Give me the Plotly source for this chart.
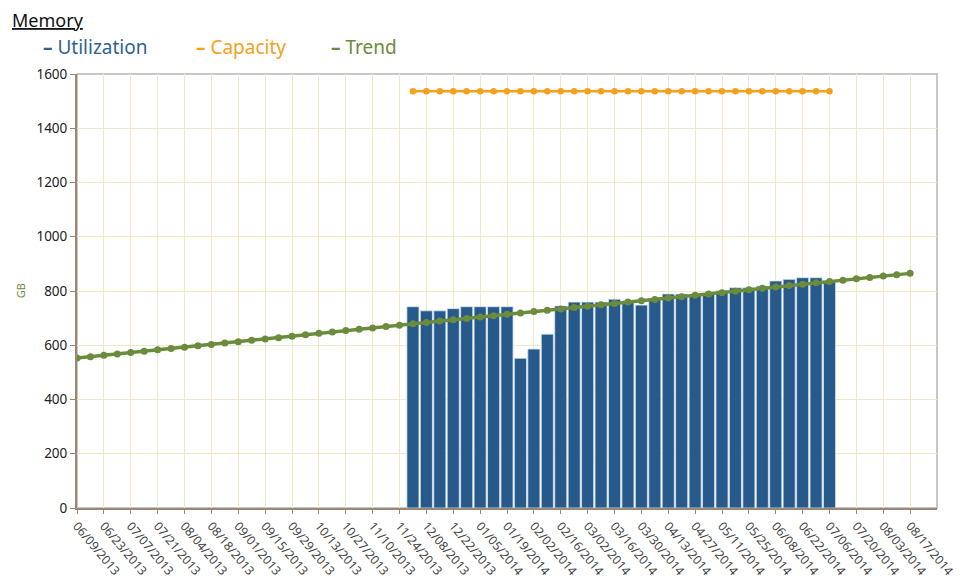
import pandas as pd
import plotly.graph_objects as go

# ---- data ----
trend_dates = pd.date_range("2013-06-09", "2014-08-17", freq="7D")
bar_dates = pd.date_range("2013-12-01", "2014-07-06", freq="7D")

utilization = [742, 727, 727, 735, 742, 742, 742, 742, 552, 586, 641, 745,
               759, 759, 759, 770, 757, 748, 772, 789, 789, 787, 791, 801,
               812, 812, 818, 837, 843, 849, 849, 838]
capacity = [1536] * 32
trend = [553, 558, 563, 568, 573, 578, 583, 588, 593, 598, 603, 608, 613,
         618, 623, 628, 633, 639, 644, 649, 654, 659, 664, 669, 674, 679,
         684, 689, 694, 699, 704, 709, 714, 719, 724, 729, 734, 739, 744,
         749, 754, 759, 764, 769, 774, 779, 784, 789, 794, 799, 805, 810,
         815, 820, 825, 830, 835, 840, 845, 850, 855, 860, 865]
tick_dates = pd.date_range("2013-06-09", "2014-08-17", freq="14D")
tick_labels = [d.strftime("%m/%d/%Y") for d in tick_dates]
y_ticks = [0, 200, 400, 600, 800, 1000, 1200, 1400, 1600]

BLUE = "#275a8a"
ORANGE = "#f7a01c"
GREEN = "#6a8c3c"
FONT = "Noto Sans"

fig = go.Figure()
fig.add_trace(go.Bar(x=bar_dates, y=utilization, name="Utilization",
                     marker=dict(color=BLUE, line=dict(color="#d6e6f3", width=0.8))))
fig.add_trace(go.Scatter(x=bar_dates, y=capacity, name="Capacity", mode="lines+markers",
                         line=dict(color=ORANGE, width=2.5),
                         marker=dict(color=ORANGE, size=6.5)))
fig.add_trace(go.Scatter(x=trend_dates, y=trend, name="Trend", mode="lines+markers",
                         line=dict(color=GREEN, width=3.5),
                         marker=dict(color=GREEN, size=7)))

fig.update_layout(
    width=956, height=573,
    margin=dict(l=69, r=27, t=66, b=73),
    plot_bgcolor="white", paper_bgcolor="white",
    showlegend=False, bargap=0.1,
    font=dict(family=FONT, size=12, color="#333333"),
)
fig.update_xaxes(
    type="date", range=["2013-06-09", "2014-08-31"], automargin=False,
    tickmode="array", tickvals=tick_dates, ticktext=tick_labels,
    tickangle=50, tickfont=dict(size=12.2, color="#444444"),
    showgrid=True, gridcolor="#f1e8c8", gridwidth=1,
    showline=True, linecolor="#9c8674", linewidth=2,
    ticks="outside", ticklen=4, tickcolor="#9c8674",
)
fig.update_yaxes(
    range=[0, 1600], tickmode="array", tickvals=y_ticks, automargin=False,
    tickfont=dict(size=13.5, color="#222222"),
    showgrid=True, gridcolor="#f1e8c8", gridwidth=1,
    showline=True, linecolor="#9c8674", linewidth=2,
    ticks="outside", ticklen=5, tickcolor="#9c8674",
    zeroline=False,
)
fig.add_shape(type="rect", xref="paper", yref="paper", x0=0, x1=1, y0=0, y1=1,
              line=dict(color="#b5b5b5", width=1.5), layer="below")

ann = [
    dict(text="<u>Memory</u>", x=-0.078, y=1.124, font=dict(size=18, color="#111111")),
    dict(text="<b>–</b> Utilization", x=-0.042, y=1.062, font=dict(size=19, color="#2f6291")),
    dict(text="<b>–</b> Capacity", x=0.136, y=1.062, font=dict(size=19, color=ORANGE)),
    dict(text="<b>–</b> Trend", x=0.293, y=1.062, font=dict(size=19, color=GREEN)),
]
for a in ann:
    fig.add_annotation(xref="paper", yref="paper", xanchor="left", yanchor="middle",
                       showarrow=False, text=a["text"], x=a["x"], y=a["y"],
                       font=dict(family=FONT, **a["font"]))
fig.add_annotation(xref="paper", yref="paper", x=-0.066, y=0.5, text="GB",
                   textangle=-90, showarrow=False, xanchor="center", yanchor="middle",
                   font=dict(family=FONT, size=11, color=GREEN))

fig.write_html("out.html")
